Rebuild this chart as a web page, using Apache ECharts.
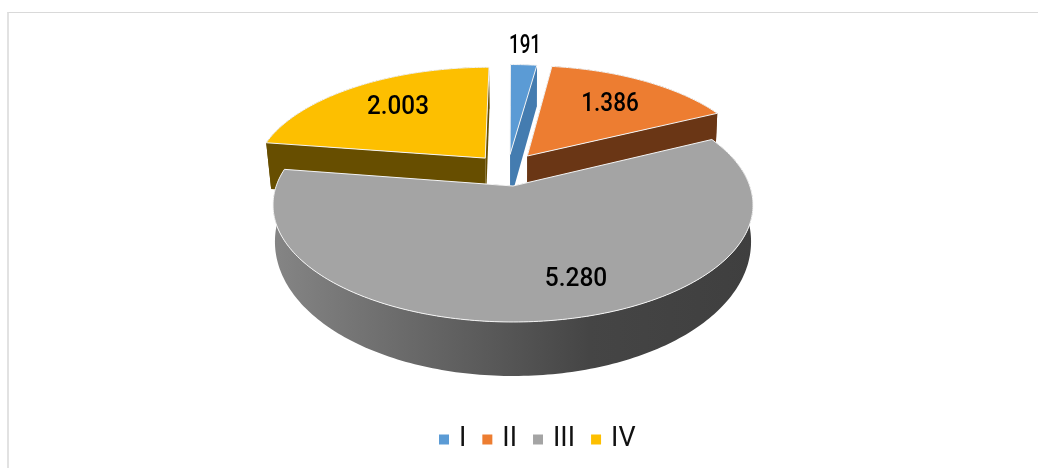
<!DOCTYPE html>
<html>
<head>
<meta charset="utf-8">
<style>
html, body { margin: 0; padding: 0; background: #fff; }
#frame { position: absolute; left: 7px; top: 12px; width: 1031px; height: 456px; box-sizing: border-box; border-top: 1px solid #d9d9d9; border-left: 2px solid #e2e2e2; }
#pie3d { position: absolute; left: 0; top: 0; width: 1038px; height: 468px; }
</style>
</head>
<body>
<div id="frame"></div>
<div id="pie3d"></div>
<script src="https://cdn.jsdelivr.net/npm/echarts@6/dist/echarts.min.js"></script>
<script>
var categories = ['I', 'II', 'III', 'IV'];
var values = [191, 1386, 5280, 2003];
var topColors = ['#5b9bd5', '#ed7d31', '#a4a4a4', '#fdbf00'];
var sideColors = ['#447cb0', '#6a3615', '#444444', '#674e00'];

// explode offset of each slice on the unit disc
var offsets = [[-0.013, -0.29], [0.063, -0.275], [0, 0], [-0.122, -0.255]];
// wall height of each slice: base, change towards the viewer, narrowing at the bottom
var walls = [[48.5, 5.5, 0.01], [48.5, 5.5, 0.01], [33.3, 20.7, 0.008], [48.5, 5.5, 0.02]];
var labelPos = [[525, 47], [610, 105], [576, 280], [398, 108]];
var labelScale = [0.75, 0.9, 0.98, 0.97];

var fontName = 'Roboto, "Liberation Sans", sans-serif';
var total = values.reduce(function (a, b) { return a + b; }, 0);

// perspective projection of the disc, z = 0 top face, z = 1 bottom face
var cx = 513, cy = 186, a = 236.8, b = 113.9, p = 0.1624;
function project(u, v, z, wall) {
    var s = 1 / (1 - p * v);
    return [cx + a * u * s * (1 - wall[2] * z), cy + b * v * s + z * (wall[0] + wall[1] * v)];
}

function formatValue(v) {
    return String(v).replace(/\B(?=(\d{3})+$)/g, '.');
}

function startAngle(idx) {
    var sum = 0;
    for (var i = 0; i < idx; i++) sum += values[i];
    return sum / total * Math.PI * 2;
}

function renderSlice(params, api) {
    var idx = params.seriesIndex;
    var off = offsets[idx];
    var wall = walls[idx];
    var from = startAngle(idx);
    var to = from + api.value(0) / total * Math.PI * 2;
    var steps = Math.ceil((to - from) / (Math.PI / 180));

    var topArc = [], bottomArc = [];
    for (var i = 0; i <= steps; i++) {
        var t = from + (to - from) * i / steps;
        var u = Math.sin(t) + off[0], v = -Math.cos(t) + off[1];
        topArc.push(project(u, v, 0, wall));
        bottomArc.push(project(u, v, 1, wall));
    }
    var tipTop = project(off[0], off[1], 0, wall);
    var tipBottom = project(off[0], off[1], 1, wall);

    var wallFill = sideColors[idx];
    if (categories[idx] === 'III') {
        wallFill = new echarts.graphic.LinearGradient(0, 0, 1, 0, [
            { offset: 0, color: '#858585' },
            { offset: 0.66, color: '#454545' },
            { offset: 1, color: '#3f3f3f' }
        ]);
    }

    var last = topArc.length - 1;
    var children = [
        { type: 'polygon', shape: { points: topArc.concat(bottomArc.slice().reverse()) }, style: { fill: wallFill } },
        { type: 'polygon', shape: { points: [tipTop, topArc[0], bottomArc[0], tipBottom] }, style: { fill: sideColors[idx] } },
        { type: 'polygon', shape: { points: [tipTop, topArc[last], bottomArc[last], tipBottom] }, style: { fill: sideColors[idx] } },
        { type: 'polygon', shape: { points: [tipTop].concat(topArc) }, style: { fill: topColors[idx], stroke: '#f4f4f4', lineWidth: 1 } },
        {
            type: 'text',
            x: labelPos[idx][0],
            y: labelPos[idx][1],
            scaleX: labelScale[idx],
            style: {
                text: formatValue(api.value(0)),
                fill: '#000',
                font: '500 25px ' + fontName,
                align: 'center',
                verticalAlign: 'middle'
            }
        }
    ];
    return { type: 'group', children: children };
}

var myChart = echarts.init(document.getElementById('pie3d'), null, { renderer: 'canvas' });
var option = {
    animation: false,
    legend: {
        data: categories,
        left: 434,
        top: 421,
        icon: 'rect',
        itemWidth: 10,
        itemHeight: 10,
        itemGap: 16,
        textStyle: { fontFamily: fontName, fontSize: 27, color: '#111', padding: [2, 0, 0, 5] }
    },
    series: categories.map(function (name, i) {
        return {
            type: 'custom',
            name: name,
            coordinateSystem: 'none',
            renderItem: renderSlice,
            z: name === 'III' ? 3 : 2,
            itemStyle: { color: topColors[i] },
            data: [values[i]]
        };
    })
};
myChart.setOption(option);
</script>
</body>
</html>
